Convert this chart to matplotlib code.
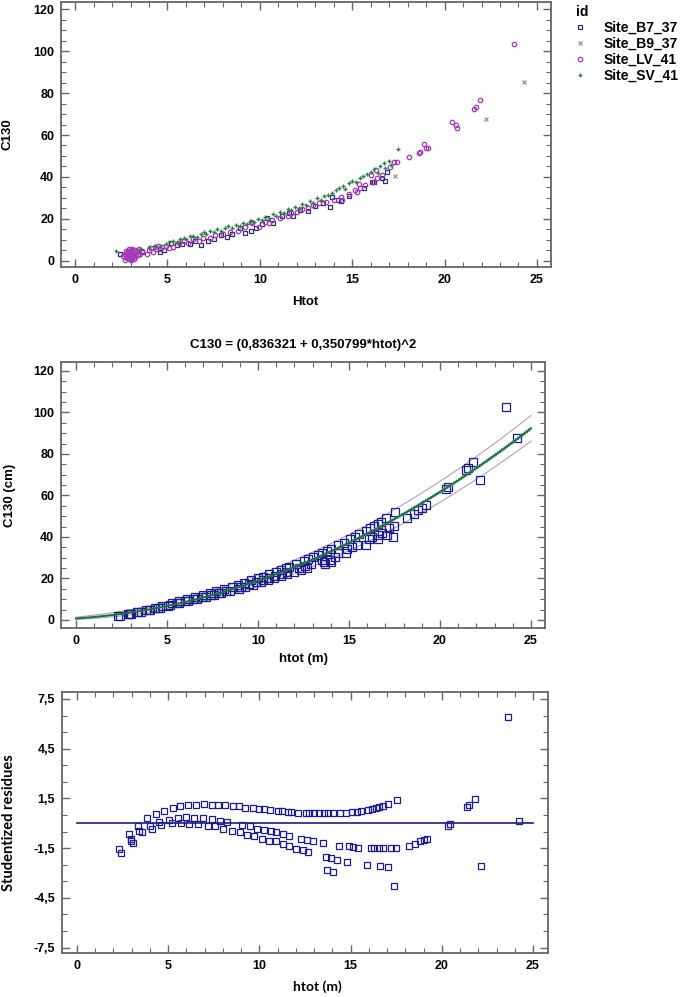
import numpy as np
import matplotlib
matplotlib.use("Agg")
import matplotlib.pyplot as plt
from matplotlib.ticker import MultipleLocator, FixedLocator, FixedFormatter

plt.rcParams.update({
    "font.family": "Liberation Sans",
    "font.weight": "bold",
    "axes.labelweight": "bold",
})

# ---- panel 1: C130 vs Htot by site ----
b7_x = [2.45, 3.6, 4.6, 4.8, 5.2, 5.5, 5.8, 6.2, 6.5, 6.8, 7.2, 7.5, 7.9, 8.2, 8.5, 8.9, 9.2,
        9.5, 9.8, 10.1, 10.4, 10.7, 11.2, 11.6, 11.8, 12.2, 12.6, 13.0, 13.4, 13.8, 13.9, 14.25,
        14.4, 14.85, 15.65, 16.05, 16.2, 16.6, 16.8, 16.9]
b7_y = [3.2, 4.2, 4.3, 5.0, 8.6, 7.4, 7.8, 8.2, 9.2, 7.6, 9.4, 10.6, 12.2, 11.5, 12.8, 15.8, 13.2,
        14.2, 15.4, 17.6, 20.6, 18.0, 21.2, 22.6, 21.2, 24.0, 23.6, 26.0, 27.4, 25.8, 30.2, 29.0,
        28.6, 30.9, 34.5, 37.4, 37.7, 39.3, 38.2, 42.5]

b9_x = [17.30, 22.24, 24.28]
b9_y = [40.3, 67.8, 85.2]

lv_x = [2.7, 2.8, 2.9, 3.0, 3.1, 3.2, 2.75, 2.85, 2.95, 3.05, 3.15, 3.25, 2.7, 2.8, 2.9, 3.0,
        3.1, 3.2, 3.3, 2.75, 2.85, 2.95, 3.05, 3.15, 3.25, 3.35, 2.9, 3.1, 3.4, 3.5, 2.6, 3.0,
        3.45, 3.6,
        3.9, 4.0, 4.1, 4.2, 4.3, 4.4, 4.5, 4.6, 4.7, 4.9, 5.1, 5.3, 5.6, 5.9, 6.1, 6.4, 6.7,
        6.9, 7.3, 7.6, 8.0, 8.4, 8.8, 9.2, 9.5, 9.6, 9.97, 10.3, 10.5, 10.65, 11.1, 11.5, 11.7,
        12.0, 12.3, 12.6, 12.9, 13.2, 13.6, 14.0, 14.45, 14.4, 14.8, 15.15, 15.24, 15.4, 15.37,
        15.7, 16.0, 16.15, 16.3, 16.36, 16.6, 17.05, 17.26, 17.44, 18.07, 18.6, 18.65, 18.87,
        18.98, 19.1, 20.4, 20.6, 20.65, 21.6, 21.7, 21.9, 23.77]
lv_y = [0.5, 1.2, 0.8, 1.5, 0.6, 1.0, 2.0, 2.6, 2.2, 2.8, 2.4, 2.0, 3.2, 3.6, 3.0, 3.8,
        3.4, 4.0, 3.2, 4.4, 4.8, 4.2, 5.0, 4.6, 5.2, 4.4, 5.6, 5.8, 2.6, 3.0, 2.4, 0.2,
        5.6, 4.6,
        3.4, 5.0, 6.0, 4.2, 6.6, 5.4, 7.0, 5.8, 6.4, 7.0, 6.0, 6.6, 8.4, 9.2, 8.6, 10.2, 9.6,
        10.8, 11.0, 12.4, 12.8, 13.6, 14.2, 15.9, 18.6, 17.8, 16.2, 18.4, 17.8, 19.4, 20.2, 21.5,
        22.6, 23.4, 24.5, 25.4, 26.6, 27.4, 28.2, 28.8, 29.0, 30.6, 32.0, 33.7, 32.9, 34.9, 36.6,
        36.2, 40.9, 37.6, 43.3, 39.3, 40.9, 44.9, 47.3, 47.0, 49.6, 51.6, 51.9, 55.9,
        53.8, 53.8, 66.4, 64.9, 63.5, 72.3, 73.5, 76.7, 103.6]

sv_x = [2.2, 3.5, 4.0, 4.3, 4.6, 4.9, 5.1, 5.3, 5.5, 5.7, 5.9, 6.0, 6.2, 6.4, 6.6, 6.8, 7.0,
        7.1, 7.3, 7.5, 7.7, 7.9, 8.1, 8.3, 8.5, 8.7, 8.9, 9.1, 9.3, 9.5, 9.7, 9.9, 10.1, 10.3,
        10.5, 10.7, 10.9, 11.1, 11.3, 11.5, 11.7, 11.9, 12.1, 12.3, 12.5, 12.7, 12.9, 13.1,
        13.3, 13.5, 13.7, 13.9, 14.1, 14.3, 14.5, 14.6, 14.8, 15.0, 15.2, 15.4, 15.6, 15.8,
        16.0, 16.2, 16.4, 16.5, 16.7, 16.8, 17.0, 17.1, 17.5]
sv_y = [4.8, 5.5, 6.5, 7.2, 6.8, 8.0, 8.8, 9.5, 9.0, 10.2, 11.0, 10.5, 11.6, 12.0, 11.4, 12.8,
        13.5, 12.6, 14.2, 13.8, 15.0, 14.4, 15.8, 16.4, 15.5, 17.2, 16.6, 18.0, 17.4, 19.0, 18.5,
        20.0, 19.4, 21.0, 20.6, 22.2, 21.5, 23.4, 22.8, 24.6, 24.0, 25.8, 25.0, 27.0, 26.4, 28.4,
        27.6, 29.8, 29.0, 30.8, 31.6, 32.4, 33.6, 34.8, 35.8, 34.2, 37.0, 38.2, 37.4, 39.6, 40.4,
        41.6, 42.4, 43.6, 42.0, 45.0, 46.6, 44.2, 47.8, 45.6, 53.2]

# ---- panels 2/3: pooled data and studentized residuals ----
htot = [2.32, 2.41, 2.85, 2.94, 2.98, 3.05, 3.34, 3.42, 3.58, 3.86, 4.02, 4.09, 4.33, 4.51,
        4.62, 4.75, 5.03, 5.19, 5.25, 5.54, 5.65, 5.68, 5.97, 6.10, 6.16, 6.43, 6.52, 6.65,
        6.93, 6.96, 7.16, 7.38, 7.40, 7.57, 7.71, 7.84, 7.99, 8.13, 8.24, 8.48, 8.55, 8.90,
        8.94, 9.06, 9.23, 9.30, 9.49, 9.63, 9.72, 9.89, 9.98, 10.16, 10.25, 10.27, 10.54,
        10.60, 10.62, 10.89, 10.91, 11.00, 11.24, 11.28, 11.31, 11.55, 11.61, 11.61, 11.73,
        11.99, 12.10, 12.28, 12.37, 12.54, 12.59, 12.68, 12.73, 12.92, 13.00, 13.27, 13.50,
        13.54, 13.63, 13.69, 13.78, 13.94, 14.02, 14.02, 14.24, 14.38, 14.42, 14.73, 14.82,
        14.91, 15.08, 15.15, 15.33, 15.42, 15.57, 15.91, 15.94, 16.10, 16.16, 16.28, 16.37,
        16.57, 16.57, 16.61, 16.76, 16.79, 17.03, 17.07, 17.20, 17.39, 17.49, 17.53, 18.20,
        18.55, 18.80, 19.01, 19.21, 20.32, 20.45, 21.40, 21.51, 21.82, 22.17, 23.65, 24.23]
c130 = [1.98, 1.96, 3.01, 2.95, 2.94, 2.96, 3.94, 3.86, 4.02, 5.00, 4.94, 4.91, 5.97, 5.90,
        5.94, 6.88, 6.94, 7.05, 7.99, 7.98, 8.90, 8.01, 8.91, 9.92, 8.94, 9.85, 10.88, 9.99,
        10.98, 11.98, 11.03, 12.98, 12.05, 11.99, 13.83, 13.04, 12.87, 14.94, 13.97, 13.99, 16.01,
        17.00, 15.12, 15.95, 17.83, 15.93, 17.10, 19.04, 16.99, 18.10, 20.04, 18.10, 20.84, 19.14,
        19.10, 21.92, 20.17, 20.15, 20.96, 23.19, 23.95, 21.09, 22.14, 24.90, 22.03, 22.90, 25.53,
        23.04, 26.83, 24.98, 24.25, 28.45, 25.99, 25.08, 29.14, 27.08, 30.14, 31.18, 28.94,
        32.25, 28.10, 27.03, 33.21, 29.08, 28.06, 34.20, 30.11, 32.10, 35.93, 37.25, 32.13,
        34.19, 38.82, 35.07, 39.97, 36.08, 41.17, 36.22, 43.01, 39.00, 44.11, 39.79, 45.20,
        46.28, 41.09, 39.12, 47.35, 42.08, 48.92, 41.09, 44.06, 40.18, 45.43, 52.00, 49.10,
        51.14, 52.75, 53.96, 55.15, 62.95, 64.08, 72.20, 73.19, 76.12, 67.34, 102.84, 87.61]
resid = [-1.54, -1.80, -0.65, -0.95, -1.07, -1.19, -0.15, -0.45, -0.55, 0.29, -0.15, -0.35,
         0.57, 0.07, -0.13, 0.77, 0.21, -0.01, 0.95, 0.29, 1.05, 0.01, 0.35, 1.10, -0.05, 0.29,
         1.11, -0.05, 0.29, 1.17, -0.17, 1.13, 0.25, -0.19, 1.13, 0.15, -0.33, 1.13, 0.07, -0.45,
         1.05, 1.05, -0.53, -0.13, 0.95, -0.69, -0.19, 0.95, -0.79, -0.33, 0.89, -0.93, 0.85,
         -0.41, -1.04, 0.81, -0.45, -1.07, -0.55, 0.77, 0.73, -1.28, -0.63, 0.65, -1.37, -0.79,
         0.65, -1.54, 0.63, -0.93, -1.60, 0.63, -0.99, -1.76, 0.61, -1.05, 0.59, 0.59, -1.22,
         0.59, -2.02, -2.80, 0.59, -2.12, -2.92, 0.59, -2.20, -1.37, 0.63, 0.63, -2.34, -1.40,
         0.67, -1.46, 0.69, -1.52, 0.75, -2.54, 0.83, -1.52, 0.87, -1.52, 0.92, 0.98, -1.52,
         -2.60, 1.05, -1.52, 1.17, -2.64, -1.48, -3.81, -1.48, 1.43, -1.36, -1.23, -1.07, -1.01,
         -0.95, -0.19, -0.03, 0.98, 1.10, 1.49, -2.60, 6.42, 0.15]

# model from the title: C130 = (a + b*htot)^2
coef_a, coef_b = 0.836321, 0.350799
pred_halfwidth = 0.32   # prediction limits, sqrt scale
conf_halfwidth = 0.04   # confidence limits, sqrt scale

navy = "#1c1c8c"
spine_col = "#666666"


def style_axes(ax):
    for s in ax.spines.values():
        s.set_color(spine_col)
        s.set_linewidth(1.3)
    ax.tick_params(which="both", direction="in", top=True, right=True,
                   color=spine_col, labelsize=9, pad=5)
    ax.tick_params(which="major", length=6, width=1.0)
    ax.tick_params(which="minor", length=3.5, width=0.8)
    ax.xaxis.set_major_locator(MultipleLocator(5))
    ax.xaxis.set_minor_locator(MultipleLocator(1))
    for lab in ax.get_xticklabels() + ax.get_yticklabels():
        lab.set_fontweight("bold")


fig = plt.figure(figsize=(6.85, 9.97), dpi=100)

# panel 1
ax1 = fig.add_axes([0.0891, 0.7322, 0.7153, 0.2658])
ax1.plot(b7_x, b7_y, "s", ms=3.0, mfc="none", mec="#2e2e6e", mew=0.9, ls="none", label="Site_B7_37")
ax1.plot(b9_x, b9_y, "x", ms=3.5, color="#b07a7a", mew=0.8, ls="none", label="Site_B9_37")
ax1.plot(lv_x, lv_y, "o", ms=3.2, mfc="none", mec="#a23ab5", mew=0.9, ls="none", label="Site_LV_41")
ax1.plot(sv_x, sv_y, "+", ms=3.5, color="#2f7d4a", mew=1.0, ls="none", label="Site_SV_41")
ax1.set_xlim(-0.76, 25.76)
ax1.set_ylim(-3.0, 123.5)
style_axes(ax1)
ax1.yaxis.set_major_locator(MultipleLocator(20))
ax1.yaxis.set_minor_locator(MultipleLocator(5))
ax1.set_xlabel("Htot", fontsize=9.5, fontweight="bold")
ax1.set_ylabel("C130", fontsize=9.5, fontweight="bold")
ax1.xaxis.set_label_coords(0.498, -0.11)
ax1.yaxis.set_label_coords(-0.096, 0.5)
leg = ax1.legend(loc="upper left", bbox_to_anchor=(1.05, 0.99), frameon=False,
                 title="id", alignment="left", handlelength=0.7, handletextpad=1.3,
                 labelspacing=0.15, borderaxespad=0, borderpad=0,
                 prop={"weight": "bold", "size": 10})
leg.get_title().set_fontweight("bold")
leg.get_title().set_fontsize(10)

# panel 2
ax2 = fig.add_axes([0.0891, 0.3701, 0.7066, 0.2668])
xx = np.linspace(0, 25, 300)
root = coef_a + coef_b * xx
ax2.plot(xx, (root + pred_halfwidth) ** 2, color="#a8a4b8", lw=0.8)
ax2.plot(xx, (root - pred_halfwidth) ** 2, color="#a8a4b8", lw=0.8)
ax2.plot(htot, c130, "s", ms=5.3, mfc="none", mec=navy, mew=0.9, ls="none")
ax2.plot(xx, (root + conf_halfwidth) ** 2, color="#6fa3a8", lw=0.8, ls=(0, (1.5, 1)))
ax2.plot(xx, (root - conf_halfwidth) ** 2, color="#6fa3a8", lw=0.8, ls=(0, (1.5, 1)))
ax2.plot(xx, root ** 2, color="#1f6e3a", lw=1.4)
ax2.set_xlim(-0.82, 25.77)
ax2.set_ylim(-3.9, 124.3)
style_axes(ax2)
ax2.yaxis.set_major_locator(MultipleLocator(20))
ax2.yaxis.set_minor_locator(MultipleLocator(5))
ax2.set_title("C130 = (0,836321 + 0,350799*htot)^2", fontsize=9.5, fontweight="bold", pad=10)
ax2.set_xlabel("htot (m)", fontsize=9.5, fontweight="bold")
ax2.set_ylabel("C130 (cm)", fontsize=9.5, fontweight="bold")
ax2.xaxis.set_label_coords(0.5, -0.095)
ax2.yaxis.set_label_coords(-0.093, 0.5)

# panel 3
ax3 = fig.add_axes([0.0905, 0.0441, 0.7095, 0.2618])
ax3.plot([0, 25], [0, 0], color=navy, lw=1.2)
ax3.plot(htot, resid, "s", ms=4.5, mfc="none", mec=navy, mew=0.9, ls="none")
ax3.set_xlim(-0.82, 25.82)
ax3.set_ylim(-7.83, 7.92)
style_axes(ax3)
yt = [-7.5, -4.5, -1.5, 1.5, 4.5, 7.5]
ax3.yaxis.set_major_locator(FixedLocator(yt))
ax3.yaxis.set_major_formatter(FixedFormatter([f"{v:.1f}".replace(".", ",") for v in yt]))
ax3.yaxis.set_minor_locator(FixedLocator(np.arange(-7.5, 8.0, 1.0)))
for lab in ax3.get_yticklabels():
    lab.set_fontweight("bold")
ax3.set_xlabel("htot (m)", fontsize=10, fontweight="bold", family="Lato")
ax3.set_ylabel("Studentized residues", fontsize=10.5, fontweight="bold", family="Lato")
ax3.xaxis.set_label_coords(0.525, -0.105)
ax3.yaxis.set_label_coords(-0.095, 0.5)

fig.savefig("out.png", dpi=100)
